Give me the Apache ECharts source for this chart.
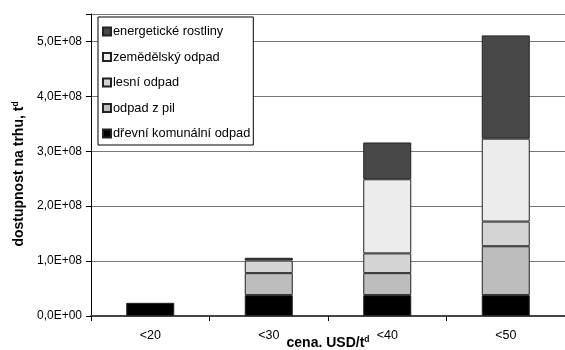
<!DOCTYPE html>
<html>
<head>
<meta charset="utf-8">
<script src="https://cdn.jsdelivr.net/npm/echarts@6/dist/echarts.min.js"></script>
<style>
html,body{margin:0;padding:0;background:#fff;}
#c{width:565px;height:350px;}
</style>
</head>
<body>
<div id="c"></div>
<script>
var categories = ['<20', '<30', '<40', '<50'];
var drevni = [24000000, 38000000, 38000000, 38000000];
var pil = ['-', 40000000, 40000000, 89000000];
var lesni = ['-', 23000000, 36000000, 45000000];
var zemedelsky = ['-', '-', 135000000, 151000000];
var energeticke = ['-', 5000000, 67000000, 188000000];
var yTickLabels = ['0,0E+00', '1,0E+08', '2,0E+08', '3,0E+08', '4,0E+08', '5,0E+08'];
var seriesNames = ['dřevní komunální odpad', 'odpad z pil', 'lesní odpad', 'zemědělský odpad', 'energetické rostliny'];
var seriesColors = ['#000000', '#bdbdbd', '#d4d4d4', '#ececec', '#484848'];
var seriesData = [drevni, pil, lesni, zemedelsky, energeticke];

var font = 'Liberation Sans, Arial, sans-serif';
var chart = echarts.init(document.getElementById('c'), null, {renderer: 'canvas'});

var series = seriesNames.map(function (n, i) {
  return {
    name: n,
    type: 'bar',
    stack: 'total',
    barWidth: 48,
    data: seriesData[i],
    itemStyle: {color: seriesColors[i], borderColor: '#222', borderWidth: 1},
    emphasis: {disabled: true}
  };
});

chart.setOption({
  animation: false,
  backgroundColor: '#fff',
  textStyle: {fontFamily: font},
  grid: {left: 91, top: 14, width: 476, height: 302, containLabel: false},
  legend: {
    orient: 'vertical',
    left: 98,
    top: 17,
    data: seriesNames.slice().reverse(),
    backgroundColor: '#fff',
    borderColor: '#000',
    borderWidth: 1,
    borderRadius: 0,
    padding: [7, 3, 4, 4],
    itemGap: 10.5,
    itemWidth: 8,
    itemHeight: 8,
    icon: 'rect',
    textStyle: {fontFamily: font, fontSize: 12.8, color: '#000', padding: [0, 0, 0, -3], lineHeight: 15},
    selectedMode: false
  },
  xAxis: {
    type: 'category',
    data: categories,
    axisLine: {lineStyle: {color: '#444', width: 2}},
    axisTick: {show: true, length: 5, lineStyle: {color: '#000'}},
    axisLabel: {fontFamily: font, fontSize: 12.5, color: '#000', margin: 13}
  },
  yAxis: {
    type: 'value',
    min: 0,
    max: 550000000,
    interval: 100000000,
    axisLine: {show: true, lineStyle: {color: '#000', width: 1}},
    axisTick: {show: true, length: 5, lineStyle: {color: '#000'}},
    splitLine: {lineStyle: {color: '#777', width: 1}},
    axisLabel: {
      fontFamily: font, fontSize: 12, color: '#000', margin: 9,
      formatter: function (v) {
        var k = Math.round(v / 100000000);
        return Math.abs(v - k * 100000000) < 1 ? yTickLabels[k] : '';
      }
    }
  },
  graphic: [
    {
      type: 'text',
      x: 19, y: 174,
      rotation: Math.PI / 2,
      style: {
        text: '{a|dostupnost na trhu, t}{s|d}',
        align: 'center', verticalAlign: 'middle',
        rich: {
          a: {fontFamily: font, fontSize: 14, fontWeight: 'bold', fill: '#000', lineHeight: 16},
          s: {fontFamily: font, fontSize: 8.5, fontWeight: 'bold', fill: '#000', verticalAlign: 'top', lineHeight: 16}
        }
      }
    },
    {
      type: 'text',
      x: 328, y: 343,
      style: {
        text: '{a|cena. USD/t}{s|d}',
        align: 'center', verticalAlign: 'middle',
        rich: {
          a: {fontFamily: font, fontSize: 14, fontWeight: 'bold', fill: '#000', lineHeight: 16},
          s: {fontFamily: font, fontSize: 8.5, fontWeight: 'bold', fill: '#000', verticalAlign: 'top', lineHeight: 16}
        }
      }
    }
  ],
  series: series
});
</script>
</body>
</html>
